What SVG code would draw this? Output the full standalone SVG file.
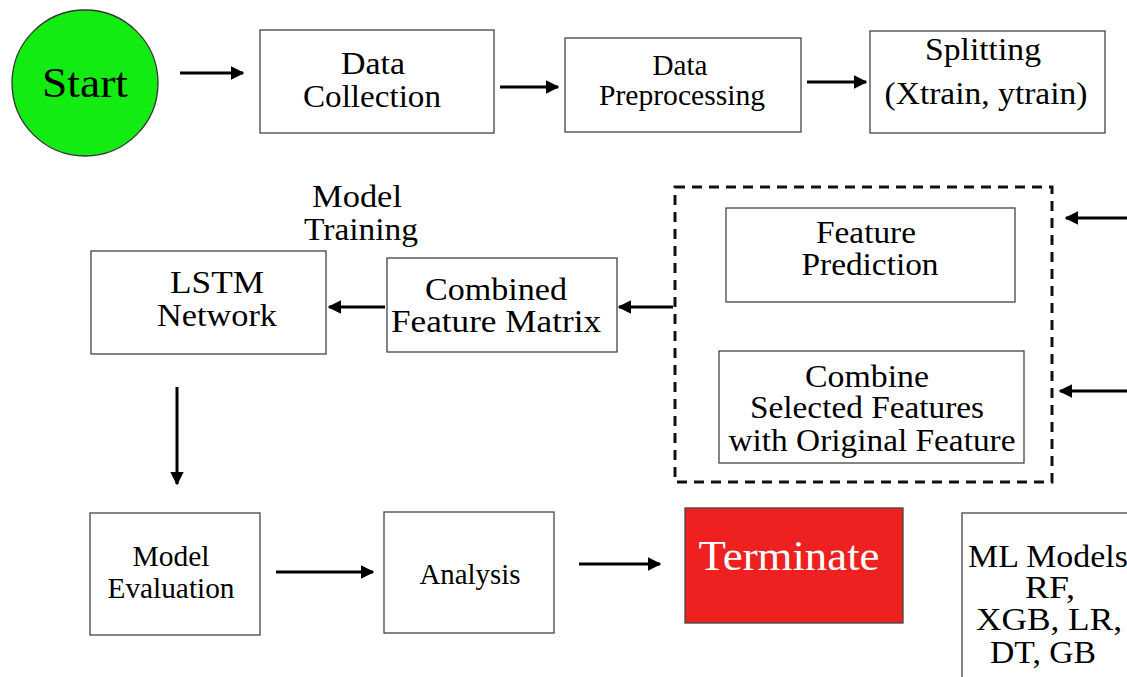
<svg xmlns="http://www.w3.org/2000/svg" width="1127" height="677" viewBox="0 0 1127 677">
<style>
.box{fill:#fff;stroke:#444;stroke-width:1.3}
.t{font-family:"Liberation Serif","Times New Roman",serif;fill:#000;text-anchor:middle}
.s32{font-size:32px}
.s31{font-size:31px}
.s29{font-size:29px}
.s42{font-size:42px}
.c{stroke:#000;stroke-width:3;fill:none}
.w{fill:#fff}
</style>
<defs>
<marker id="ah" viewBox="0 0 10 10" refX="9" refY="5" markerWidth="4.5" markerHeight="5" orient="auto" markerUnits="strokeWidth">
<path d="M0,0 L10,5 L0,10 z" fill="#000"/>
</marker>
</defs>
<rect width="1127" height="677" fill="#fff"/>
<g id="connectors">
<line class="c" x1="180" y1="73" x2="243" y2="73" marker-end="url(#ah)"/>
<line class="c" x1="500" y1="87" x2="558" y2="87" marker-end="url(#ah)"/>
<line class="c" x1="807" y1="82" x2="866" y2="82" marker-end="url(#ah)"/>
<line class="c" x1="1127" y1="218" x2="1066" y2="218" marker-end="url(#ah)"/>
<line class="c" x1="1127" y1="391" x2="1060" y2="391" marker-end="url(#ah)"/>
<line class="c" x1="673" y1="307" x2="619" y2="307" marker-end="url(#ah)"/>
<line class="c" x1="385" y1="307" x2="329" y2="307" marker-end="url(#ah)"/>
<line class="c" x1="177" y1="387" x2="177" y2="484" marker-end="url(#ah)"/>
<line class="c" x1="276" y1="572" x2="373" y2="572" marker-end="url(#ah)"/>
<line class="c" x1="579" y1="564" x2="660" y2="564" marker-end="url(#ah)"/>
</g>
<g id="start">
<circle cx="85" cy="83" r="73" fill="#12ec12" stroke="#333" stroke-width="1.3"/>
<text class="t s42" x="85" y="97" textLength="86" lengthAdjust="spacingAndGlyphs">Start</text>
</g>
<g id="data-collection">
<rect class="box" x="260" y="30" width="234" height="103"/>
<text class="t s32" x="373" y="74" textLength="64" lengthAdjust="spacingAndGlyphs">Data</text>
<text class="t s32" x="372" y="107" textLength="138" lengthAdjust="spacingAndGlyphs">Collection</text>
</g>
<g id="data-preprocessing">
<rect class="box" x="565" y="38" width="236" height="94"/>
<text class="t s29" x="680" y="75" textLength="55" lengthAdjust="spacingAndGlyphs">Data</text>
<text class="t s29" x="682" y="105" textLength="166" lengthAdjust="spacingAndGlyphs">Preprocessing</text>
</g>
<g id="splitting">
<rect class="box" x="870" y="31" width="235" height="102"/>
<text class="t s32" x="983" y="60" textLength="116" lengthAdjust="spacingAndGlyphs">Splitting</text>
<text class="t s32" x="986" y="104" textLength="203" lengthAdjust="spacingAndGlyphs">(Xtrain, ytrain)</text>
</g>
<g id="model-training-label">
<text class="t s32" x="357" y="207" textLength="90" lengthAdjust="spacingAndGlyphs">Model</text>
<text class="t s32" x="361" y="240" textLength="114" lengthAdjust="spacingAndGlyphs">Training</text>
</g>
<g id="lstm">
<rect class="box" x="91" y="251" width="235" height="103"/>
<text class="t s32" x="217" y="293" textLength="94" lengthAdjust="spacingAndGlyphs">LSTM</text>
<text class="t s32" x="217" y="326" textLength="120" lengthAdjust="spacingAndGlyphs">Network</text>
</g>
<g id="combined-feature-matrix">
<rect class="box" x="387" y="258" width="230" height="94"/>
<text class="t s32" x="496" y="300" textLength="142" lengthAdjust="spacingAndGlyphs">Combined</text>
<text class="t s32" x="496" y="332" textLength="210" lengthAdjust="spacingAndGlyphs">Feature Matrix</text>
</g>
<g id="feature-group">
<rect x="675" y="187" width="377" height="295" fill="none" stroke="#111" stroke-width="3" stroke-dasharray="10,7"/>
</g>
<g id="feature-prediction">
<rect class="box" x="726" y="208" width="289" height="94"/>
<text class="t s32" x="866" y="243" textLength="100" lengthAdjust="spacingAndGlyphs">Feature</text>
<text class="t s32" x="870" y="275" textLength="137" lengthAdjust="spacingAndGlyphs">Prediction</text>
</g>
<g id="combine-features">
<rect class="box" x="719" y="351" width="305" height="112"/>
<text class="t s31" x="867" y="387" textLength="124" lengthAdjust="spacingAndGlyphs">Combine</text>
<text class="t s31" x="867" y="418" textLength="234" lengthAdjust="spacingAndGlyphs">Selected Features</text>
<text class="t s31" x="872" y="451" textLength="287" lengthAdjust="spacingAndGlyphs">with Original Feature</text>
</g>
<g id="model-evaluation">
<rect class="box" x="90" y="513" width="170" height="122"/>
<text class="t s29" x="171" y="566" textLength="77" lengthAdjust="spacingAndGlyphs">Model</text>
<text class="t s29" x="171" y="598" textLength="127" lengthAdjust="spacingAndGlyphs">Evaluation</text>
</g>
<g id="analysis">
<rect class="box" x="384" y="512" width="170" height="121"/>
<text class="t s29" x="470" y="584" textLength="101" lengthAdjust="spacingAndGlyphs">Analysis</text>
</g>
<g id="terminate">
<rect x="685" y="508" width="218" height="115" fill="#ef2020" stroke="#444" stroke-width="1.3"/>
<text class="t s42 w" x="789" y="570" textLength="181" lengthAdjust="spacingAndGlyphs">Terminate</text>
</g>
<g id="ml-models">
<rect class="box" x="962" y="513" width="200" height="200"/>
<text class="t s31" x="1048" y="567" textLength="160" lengthAdjust="spacingAndGlyphs">ML Models</text>
<text class="t s31" x="1050" y="598" textLength="50" lengthAdjust="spacingAndGlyphs">RF,</text>
<text class="t s31" x="1049" y="630" textLength="146" lengthAdjust="spacingAndGlyphs">XGB, LR,</text>
<text class="t s31" x="1043" y="663" textLength="106" lengthAdjust="spacingAndGlyphs">DT, GB</text>
</g>
</svg>
